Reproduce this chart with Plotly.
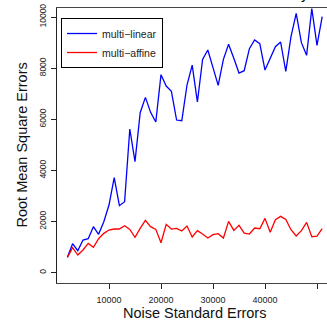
import plotly.graph_objects as go

noise_sd = [2000 + 1000 * k for k in range(50)]

rmse_multi_linear = [
    600, 1134, 860, 1278, 1330, 1800, 1500, 1995, 2647, 3716,
    2620, 2777, 5619, 4342, 6258, 6858, 6271, 5893, 7744, 7301,
    7093, 5971, 5945, 7340, 8120, 6675, 8344, 8709, 8018, 7327,
    8344, 8931, 8383, 7810, 7901, 8761, 9100, 8957, 7927, 8422,
    8840, 9022, 7875, 9231, 10143, 8996, 8501, 10326, 8892, 10013,
]

rmse_multi_affine = [
    600, 978, 691, 887, 1147, 991, 1330, 1538, 1669, 1708,
    1708, 1838, 1695, 1382, 1734, 2047, 1800, 1695, 1173, 1890,
    1708, 1734, 1630, 1825, 1395, 1643, 1512, 1356, 1486, 1525,
    1356, 2008, 1656, 1851, 1551, 1512, 1747, 1721, 2125, 1578,
    2073, 2203, 2086, 1682, 1434, 1643, 1969, 1408, 1434, 1721,
]

x_ticks = [10000, 20000, 30000, 40000, 50000]
y_ticks = [0, 2000, 4000, 6000, 8000, 10000]

font_family = "Liberation Sans, Arial, sans-serif"

fig = go.Figure()
fig.add_trace(go.Scatter(x=noise_sd, y=rmse_multi_linear, mode="lines",
                         name="multi\u2212linear",
                         line=dict(color="#0000FF", width=1.3)))
fig.add_trace(go.Scatter(x=noise_sd, y=rmse_multi_affine, mode="lines",
                         name="multi\u2212affine",
                         line=dict(color="#FF0000", width=1.3)))

fig.update_layout(
    width=327, height=325,
    margin=dict(l=57, r=0, t=8, b=42),
    plot_bgcolor="white", paper_bgcolor="white",
    font=dict(family=font_family, color="black"),
    showlegend=True,
    legend=dict(x=0.0148, y=0.9636, xanchor="left", yanchor="top",
                bordercolor="black", borderwidth=1, bgcolor="white",
                font=dict(size=10.5, color="#222"),
                tracegroupgap=0, itemwidth=30),
    xaxis=dict(range=[0, 51923], tickvals=x_ticks,
               ticktext=[str(v) for v in x_ticks],
               showgrid=False, zeroline=False,
               showline=True, linecolor="#444", linewidth=1.2, mirror=True,
               ticks="outside", ticklen=5, tickcolor="#222", tickwidth=1,
               ticklabelstandoff=3,
               tickfont=dict(size=9, color="#222")),
    yaxis=dict(range=[-403, 10352], tickvals=y_ticks,
               ticktext=[str(v) for v in y_ticks],
               showgrid=False, zeroline=False,
               showline=True, linecolor="#222", linewidth=1.2,
               ticks="outside", ticklen=5, tickcolor="#222", tickwidth=1,
               ticklabelstandoff=2,
               tickangle=-90, tickfont=dict(size=8.5, color="#222")),
    annotations=[
        dict(text="Noise Standard Errors", xref="paper", yref="paper",
             x=0.511, y=-0.109, xanchor="center", yanchor="middle",
             showarrow=False, font=dict(size=14.5, color="#111")),
        dict(text="Root Mean Square Errors", xref="paper", yref="paper",
             x=-0.1333, y=0.5, xanchor="center", yanchor="middle",
             textangle=-90, showarrow=False, font=dict(size=14.5, color="#111")),
        dict(text="y", xref="paper", yref="paper",
             x=(305 - 57) / 270, y=1 + 4 / 275, xanchor="center", yanchor="bottom",
             showarrow=False, font=dict(size=15, color="black")),
    ],
)

fig.write_html(
    "out.html",
    config={"displayModeBar": False},
    post_script="document.body.style.margin='0';document.body.style.overflow='hidden';",
)
